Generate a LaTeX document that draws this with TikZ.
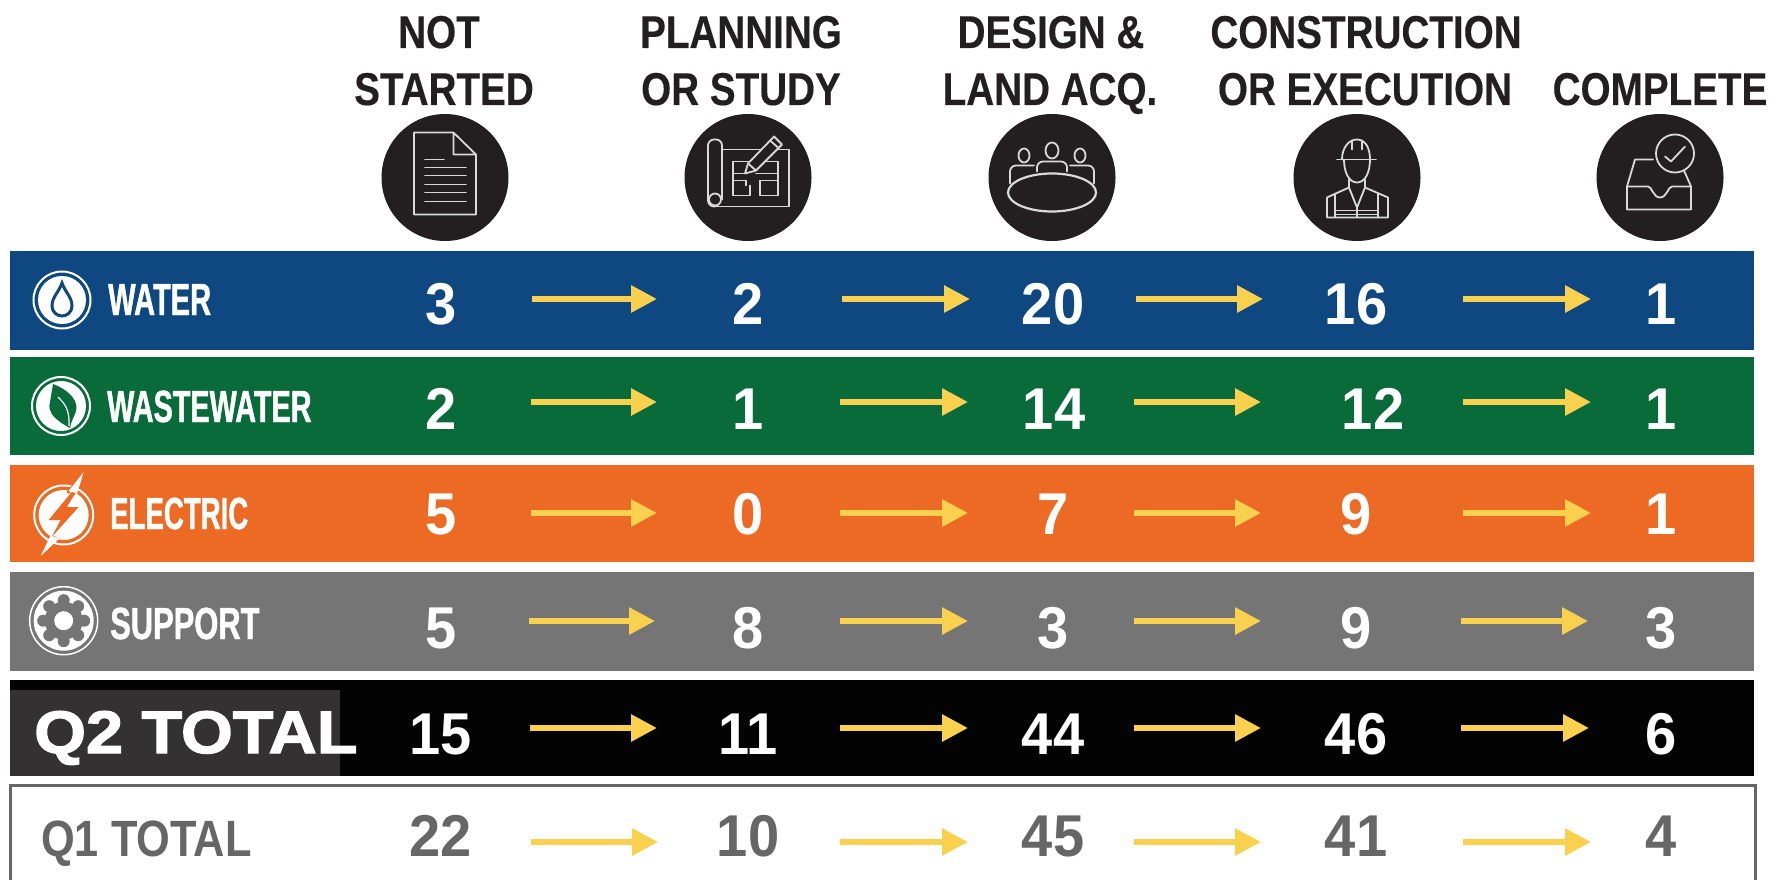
\documentclass[tikz,border=0pt]{standalone}
\usepackage{fontspec}
\usetikzlibrary{arrows.meta}
\setmainfont{Liberation Sans}
\newfontfamily\hdfont[FakeStretch=0.84,FakeBold=0.3]{Liberation Sans Bold}
\newfontfamily\catfont[FakeStretch=0.66,FakeBold=1]{Liberation Sans Bold}
\newfontfamily\qtwofont[FakeStretch=1.11,FakeBold=2.2]{Liberation Sans Bold}
\newfontfamily\qonefont[FakeStretch=0.85]{Liberation Sans Bold}
\newfontfamily\numfont[FakeStretch=0.95]{Liberation Sans Bold}
\definecolor{cwater}{HTML}{0F4880}
\definecolor{cwaste}{HTML}{096B3A}
\definecolor{celec}{HTML}{EC6A23}
\definecolor{csupp}{HTML}{757575}
\definecolor{cblack}{HTML}{030303}
\definecolor{cpatch}{HTML}{333132}
\definecolor{cgrey}{HTML}{666666}
\definecolor{cyel}{HTML}{FAD04F}
\definecolor{cdisc}{HTML}{231F20}
\definecolor{cicon}{HTML}{D9D9D9}
\tikzset{
  hdtext/.style={inner sep=0pt,anchor=base,text=cdisc,font=\hdfont\fontsize{46}{46}\selectfont},
  cattext/.style={inner sep=0pt,anchor=base west,text=white,transform shape,font=\catfont\fontsize{45}{45}\selectfont},
  numw/.style={inner sep=0pt,anchor=base,text=white,font=\numfont\fontsize{59}{59}\selectfont},
  numg/.style={inner sep=0pt,anchor=base,text=cgrey,font=\numfont\fontsize{59}{59}\selectfont},
  disc/.style={circle,fill=cdisc,inner sep=0pt,minimum size=127pt},
  iconline/.style={draw=cicon,line width=1.8pt,line join=round,line cap=round},
  flow/.style={draw=cyel,line width=6pt,-{Triangle[length=26pt,width=26pt,fill=cyel]}}
}
\newcommand{\flowarrow}[4]{%
  \coordinate (#1s) at (#2,#4);
  \coordinate (#1e) at (#3,#4);
  \draw[flow] (#1s) -- (#1e);}
\begin{document}
\begin{tikzpicture}[x=1pt,y=-1pt]
\useasboundingbox (0,0) rectangle (1783,880);
\fill[white] (0,0) rectangle (1783,880);

% bars
\fill[cwater] (10,251) rectangle (1754,350);
\fill[cwaste] (10,357) rectangle (1754,455);
\fill[celec] (10,465) rectangle (1754,562);
\fill[csupp] (10,572) rectangle (1754,671);
\fill[cblack] (10,680) rectangle (1754,776);
\fill[cpatch] (10,690) rectangle (340,776);
\draw[cgrey,line width=3pt] (10.5,880) -- (10.5,785) -- (1755,785) -- (1755,880);

% headers
\node[hdtext] (h1a) at (439,48) {NOT};
\node[hdtext] (h1b) at (444,105) {STARTED};
\node[hdtext] (h2a) at (741,48) {PLANNING};
\node[hdtext] (h2b) at (741,105) {OR STUDY};
\node[hdtext] (h3a) at (1051,48) {DESIGN \&};
\node[hdtext] (h3b) at (1050,105) {LAND ACQ.};
\node[hdtext] (h4a) at (1366,48) {CONSTRUCTION};
\node[hdtext] (h4b) at (1365,105) {OR EXECUTION};
\node[hdtext] (h5b) at (1660,105) {COMPLETE};

% discs
\node[disc] (d1) at (445,177.5) {};
\node[disc] (d2) at (748,177.5) {};
\node[disc] (d3) at (1052,177.5) {};
\node[disc] (d4) at (1357,177.5) {};
\node[disc] (d5) at (1660,177.5) {};

% document icon
\begin{scope}[shift={(445,177.5)},iconline]
\draw (8.4,-45) -- (-31,-45) -- (-31,37) -- (31,37) -- (31,-23) -- (8.4,-45) -- (8.4,-23) -- (31,-23);
\draw (-20,-18) -- (-1,-18);
\draw (-20,-10) -- (21,-10) (-20,-2) -- (21,-2) (-20,7) -- (21,7) (-20,15) -- (21,15) (-20,24) -- (21,24);
\end{scope}

% plan icon
\begin{scope}[shift={(748,177.5)},iconline]
\draw[rounded corners=6pt] (-26,22) -- (-26,-38) -- (-40,-38) -- (-40,29) -- (-33,29);
\draw (-33,22) circle (6);
\draw (-26,-28) -- (16,-28) (25,-28) -- (41,-28) -- (41,29) -- (-33,29);
\draw (4,-16) -- (-15,-16) -- (-15,18) -- (2,18) -- (2,8) (-15,-4) -- (-4,-4) (-15,3) -- (-2,3) -- (-2,8);
\draw (18,-16) -- (30,-16) -- (30,18) -- (12,18) -- (12,3) -- (30,3) (8,-4) -- (30,-4);
\draw[fill=cdisc] (-3,-4) -- (0,-14) -- (26,-41) -- (34,-33) -- (8,-7) -- cycle;
\draw (0,-14) -- (8,-7) (22,-37) -- (30,-30);
\end{scope}

% meeting icon
\begin{scope}[shift={(1052,177.5)},iconline]
\draw (0,-27) ellipse (6.5 and 8);
\draw (-28,-22) ellipse (5.5 and 7);
\draw (28,-22) ellipse (5.5 and 7);
\draw[rounded corners=6pt] (-15,-6) -- (-15,-16) -- (15,-16) -- (15,-6);
\draw[rounded corners=6pt] (-42,6) -- (-42,-12) -- (-18,-12);
\draw[rounded corners=6pt] (42,6) -- (42,-12) -- (18,-12);
\draw[line width=2.2pt] (0,15) ellipse (44 and 19);
\end{scope}

% worker icon
\begin{scope}[shift={(1357,177.5)},iconline]
\draw (-20,-18) -- (19,-18);
\draw (-15,-18) .. controls (-15,-30) and (-8,-38) .. (0,-38) .. controls (8,-38) and (13,-30) .. (13,-18);
\draw (-5,-28) -- (-5,-37) (5,-28) -- (5,-37);
\draw (-13,-18) .. controls (-13,-5) and (-8,5) .. (0,5) .. controls (8,5) and (13,-5) .. (13,-18);
\draw (-8,2) -- (-8,10) -- (-30,20) -- (-30,40) -- (31,40) -- (31,20) -- (8,10) -- (8,2);
\draw (-8,10) -- (0,30) -- (8,10);
\draw (0,30) -- (0,40);
\draw (-22,16) -- (-22,40) (21,16) -- (21,40);
\draw (-22,33) -- (21,33) (-22,37) -- (21,37);
\end{scope}

% inbox icon
\begin{scope}[shift={(1660,177.5)},iconline]
\draw (15,-24) circle (19);
\draw (5,-21) -- (11,-16) -- (25,-31);
\draw (-7,-18) -- (-25,-18) -- (-33,9) -- (-33,32) -- (31,32) -- (31,9) -- (24,-7);
\draw (-33,9) -- (-12,9) .. controls (-8,9) and (-7,20) .. (0,20) .. controls (7,20) and (8,9) .. (12,9) -- (31,9);
\end{scope}

% category icons
\begin{scope}[shift={(62,300)}]
\draw[white,line width=2pt] (0,0) circle (28.5);
\fill[white] (0,0) circle (24);
\draw[cwater,line width=3pt,fill=white] (0,-17) .. controls (3,-8) and (10,-3) .. (10,6) .. controls (10,12) and (5,16) .. (0,16) .. controls (-5,16) and (-10,12) .. (-10,6) .. controls (-10,-3) and (-3,-8) .. (0,-17) -- cycle;
\end{scope}

\begin{scope}[shift={(61,406)}]
\draw[white,line width=2pt] (0,0) circle (29);
\fill[white] (0,0) circle (25);
\fill[cwaste] (-8,-22) .. controls (8,-16) and (20,-4) .. (14,8) .. controls (12,13) and (10,16) .. (9,22) .. controls (-6,14) and (-14,6) .. (-11,-4) .. controls (-10,-10) and (-9,-16) .. (-8,-22) -- cycle;
\draw[white,line width=1.2pt] (-3,-9) .. controls (3,-3) and (9,3) .. (8,20);
\end{scope}

\begin{scope}[shift={(63.7,515)}]
\draw[white,line width=2pt] (0,0) circle (29.5);
\fill[white] (0,0) circle (25);
\draw[celec,line width=3pt] (22,-44) -- (4,-22) (-24,42) -- (-8,22);
\fill[white] (20,-43) -- (5,-24) -- (13,-20) -- cycle;
\fill[white] (-23,41) -- (-13,20) -- (-5,24) -- cycle;
\fill[celec] (8,-23) -- (-15,5) -- (-3,5) -- (-12,22) -- (15,-8) -- (3,-8) -- (12,-22) -- cycle;
\end{scope}

\begin{scope}[shift={(63.7,620.7)}]
\draw[white,line width=1.5pt] (0,0) circle (34);
\fill[white] (0,0) circle (30);
\fill[csupp] (0,0) circle (19);
\foreach \a in {0,45,...,315}{\fill[csupp] (\a:20.5) circle (6);}
\fill[white] (0,0) circle (9.5);
\end{scope}

% category labels
\node[cattext,xscale=0.98] (lw) at (108,315) {WATER};
\node[cattext,xscale=0.97] (lww) at (107,422) {WASTEWATER};
\node[cattext,xscale=0.93] (le) at (110,529) {ELECTRIC};
\node[cattext,xscale=1.04] (ls) at (110,639) {SUPPORT};
\node[inner sep=0pt,anchor=base west,text=white,font=\qtwofont\fontsize{60}{60}\selectfont] (lq2) at (34,753) {Q2 TOTAL};
\node[inner sep=0pt,anchor=base west,text=cgrey,font=\qonefont\fontsize{51}{51}\selectfont] (lq1) at (41,856) {Q1 TOTAL};

% values
\node[numw] (w1) at (441,324) {3};
\node[numw] (w2) at (748,324) {2};
\node[numw] (w3) at (1053,324) {20};
\node[numw] (w4) at (1356,324) {16};
\node[numw] (w5) at (1661,324) {1};
\node[numw] (g1) at (441,429) {2};
\node[numw] (g2) at (748,429) {1};
\node[numw] (g3) at (1054,429) {14};
\node[numw] (g4) at (1373,429) {12};
\node[numw] (g5) at (1661,429) {1};
\node[numw] (e1) at (441,534) {5};
\node[numw] (e2) at (748,534) {0};
\node[numw] (e3) at (1053,534) {7};
\node[numw] (e4) at (1356,534) {9};
\node[numw] (e5) at (1661,534) {1};
\node[numw] (s1) at (441,648) {5};
\node[numw] (s2) at (748,648) {8};
\node[numw] (s3) at (1053,648) {3};
\node[numw] (s4) at (1356,648) {9};
\node[numw] (s5) at (1661,648) {3};
\node[numw] (q1) at (441,754) {15};
\node[numw] (q2) at (748,754) {11};
\node[numw] (q3) at (1053,754) {44};
\node[numw] (q4) at (1356,754) {46};
\node[numw] (q5) at (1661,754) {6};
\node[numg] (p1) at (441,856) {22};
\node[numg] (p2) at (748,856) {10};
\node[numg] (p3) at (1053,856) {45};
\node[numg] (p4) at (1356,856) {41};
\node[numg] (p5) at (1661,856) {4};

% arrows
\flowarrow{wa}{532}{657}{299}
\flowarrow{wb}{842}{970}{299}
\flowarrow{wc}{1136}{1263}{299}
\flowarrow{wd}{1463}{1591}{299}
\flowarrow{ga}{531}{657}{402}
\flowarrow{gb}{840}{968}{402}
\flowarrow{gc}{1134}{1261}{402}
\flowarrow{gd}{1463}{1591}{402}
\flowarrow{ea}{531}{657}{513}
\flowarrow{eb}{840}{968}{513}
\flowarrow{ec}{1134}{1261}{513}
\flowarrow{ed}{1463}{1591}{513}
\flowarrow{sa}{529}{655}{621}
\flowarrow{sb}{840}{968}{621}
\flowarrow{sc}{1134}{1261}{621}
\flowarrow{sd}{1461}{1588}{621}
\flowarrow{qa}{530}{657}{728}
\flowarrow{qb}{840}{968}{728}
\flowarrow{qc}{1134}{1261}{728}
\flowarrow{qd}{1461}{1589}{728}
\flowarrow{pa}{531}{658}{842}
\flowarrow{pb}{840}{968}{842}
\flowarrow{pc}{1134}{1261}{842}
\flowarrow{pd}{1463}{1591}{842}
\end{tikzpicture}
\end{document}
